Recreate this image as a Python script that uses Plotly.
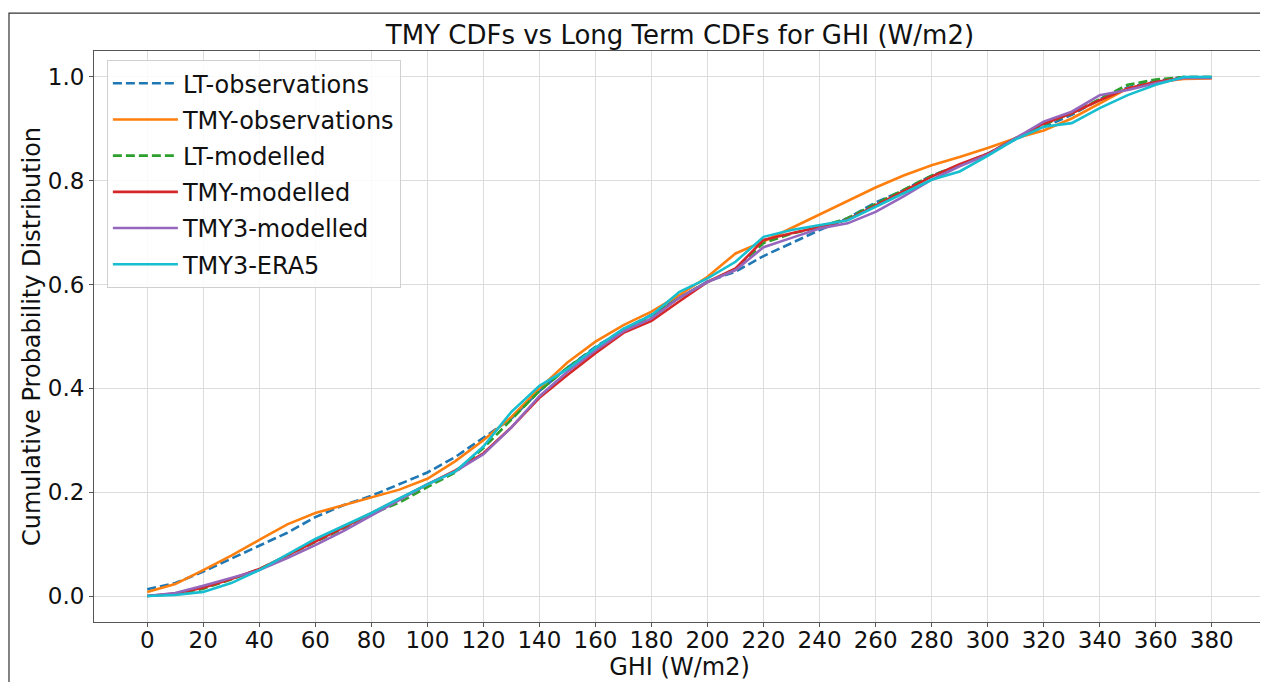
import plotly.graph_objects as go

ghi = [0, 10, 20, 30, 40, 50, 60, 70, 80, 90, 100, 110, 120, 130, 140, 150, 160, 170, 180, 190,
       200, 210, 220, 230, 240, 250, 260, 270, 280, 290, 300, 310, 320, 330, 340, 350, 360, 370, 380]

lt_obs = [0.013, 0.025, 0.047, 0.072, 0.096, 0.122, 0.152, 0.175, 0.193, 0.215, 0.238, 0.268, 0.305,
          0.342, 0.395, 0.440, 0.480, 0.513, 0.542, 0.575, 0.606, 0.625, 0.655, 0.680, 0.705, 0.728,
          0.758, 0.782, 0.810, 0.830, 0.852, 0.880, 0.903, 0.927, 0.957, 0.980, 0.992, 1.000, 1.000]
tmy_obs = [0.008, 0.023, 0.050, 0.078, 0.108, 0.138, 0.160, 0.175, 0.190, 0.205, 0.226, 0.260, 0.300,
           0.345, 0.400, 0.450, 0.490, 0.522, 0.548, 0.580, 0.615, 0.660, 0.683, 0.709, 0.734, 0.760,
           0.787, 0.810, 0.830, 0.846, 0.863, 0.882, 0.897, 0.920, 0.949, 0.978, 0.990, 0.996, 0.997]
lt_mod = [0.000, 0.004, 0.014, 0.032, 0.052, 0.078, 0.105, 0.130, 0.158, 0.180, 0.210, 0.238, 0.285,
          0.340, 0.395, 0.440, 0.478, 0.512, 0.540, 0.575, 0.605, 0.630, 0.680, 0.698, 0.711, 0.728,
          0.755, 0.782, 0.810, 0.830, 0.852, 0.882, 0.908, 0.930, 0.958, 0.985, 0.995, 1.000, 1.000]
tmy_mod = [0.000, 0.005, 0.016, 0.033, 0.052, 0.078, 0.105, 0.132, 0.160, 0.188, 0.215, 0.242, 0.275,
           0.325, 0.382, 0.426, 0.468, 0.507, 0.530, 0.568, 0.605, 0.631, 0.686, 0.699, 0.711, 0.725,
           0.752, 0.780, 0.808, 0.832, 0.852, 0.882, 0.910, 0.930, 0.955, 0.978, 0.990, 0.999, 0.999]
tmy3_mod = [0.000, 0.006, 0.020, 0.035, 0.050, 0.073, 0.098, 0.125, 0.155, 0.185, 0.215, 0.240, 0.273,
            0.325, 0.385, 0.432, 0.473, 0.510, 0.535, 0.575, 0.605, 0.628, 0.672, 0.690, 0.708, 0.718,
            0.740, 0.770, 0.802, 0.828, 0.850, 0.882, 0.914, 0.933, 0.965, 0.975, 0.988, 0.998, 0.998]
tmy3_era5 = [0.000, 0.002, 0.008, 0.025, 0.050, 0.080, 0.110, 0.135, 0.160, 0.188, 0.215, 0.240, 0.288,
             0.355, 0.405, 0.437, 0.478, 0.515, 0.541, 0.586, 0.612, 0.644, 0.692, 0.705, 0.715, 0.724,
             0.750, 0.776, 0.802, 0.818, 0.848, 0.880, 0.904, 0.911, 0.940, 0.965, 0.985, 1.000, 1.000]

series = [
    ("LT-observations", lt_obs, "#1f77b4", "9px,4px"),
    ("TMY-observations", tmy_obs, "#ff7f0e", "solid"),
    ("LT-modelled", lt_mod, "#2ca02c", "9px,4px"),
    ("TMY-modelled", tmy_mod, "#d62728", "solid"),
    ("TMY3-modelled", tmy3_mod, "#9467bd", "solid"),
    ("TMY3-ERA5", tmy3_era5, "#17becf", "solid"),
]

x_ticks = list(range(0, 381, 20))
y_ticks = [0.0, 0.2, 0.4, 0.6, 0.8, 1.0]

fig = go.Figure()
for name, vals, color, dash in series:
    fig.add_trace(go.Scatter(x=ghi, y=vals, mode="lines", name=name, legendgroup=name,
                             line=dict(color=color, width=2.6, dash=dash)))

axis_common = dict(showline=True, mirror=True, linecolor="#555", linewidth=1,
                   showgrid=True, gridcolor="#dcdcdc", gridwidth=1, zeroline=False,
                   ticks="outside", ticklen=4, tickcolor="#555",
                   tickfont=dict(size=23, color="#111"))

# page body has an 8px offset, so the figure is 8px smaller than the window
fig.update_layout(
    width=1260, height=674,
    paper_bgcolor="white", plot_bgcolor="white",
    font=dict(family="DejaVu Sans", color="#111"),
    margin=dict(l=86, r=3, t=43, b=60, autoexpand=False),
    title=dict(text="TMY CDFs vs Long Term CDFs for GHI (W/m2)", x=0.5333, xanchor="center",
               y=0.96, yanchor="middle", font=dict(size=26)),
    xaxis=dict(range=[-19, 399], tickvals=x_ticks, automargin=False, ticklabelstandoff=-7,
               title=dict(text="GHI (W/m2)", font=dict(size=24), standoff=3), **axis_common),
    yaxis=dict(range=[-0.05, 1.05], tickvals=y_ticks, tickformat=".1f", automargin=False,
               title=dict(text="Cumulative Probability Distribution", font=dict(size=24), standoff=0),
               **axis_common),
    legend=dict(x=0.011, y=0.984, xanchor="left", yanchor="top", bgcolor="rgba(255,255,255,0.85)",
                bordercolor="#d0d0d0", borderwidth=1, font=dict(size=24), tracegroupgap=2,
                itemwidth=65),
    shapes=[dict(type="rect", xref="paper", yref="paper", x0=-0.0726, x1=1.0017, y0=-0.12, y1=1.0665,
                 line=dict(color="#333", width=1.2), fillcolor="rgba(0,0,0,0)", layer="below")],
)

fig.write_html("out.html")
